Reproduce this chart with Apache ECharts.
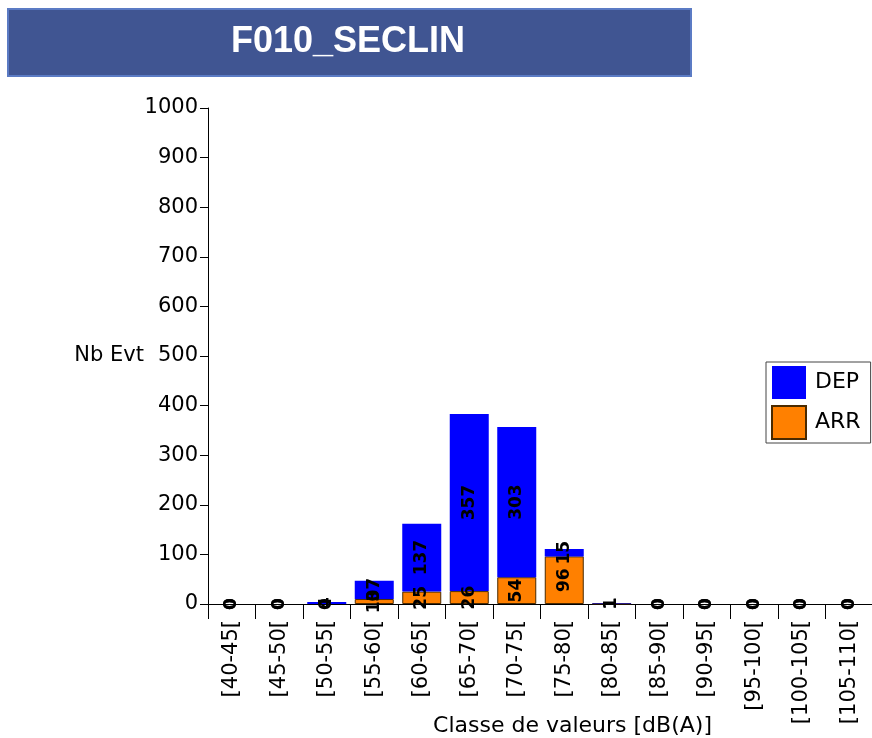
<!DOCTYPE html>
<html>
<head>
<meta charset="utf-8">
<script src="https://cdn.jsdelivr.net/npm/echarts@6/dist/echarts.min.js"></script>
<style>
  html, body { margin: 0; padding: 0; background: #fff; }
  #chart { width: 872px; height: 738px; }
</style>
</head>
<body>
<div id="chart"></div>
<script>
// classes de valeurs
var classes = ['[40-45[', '[45-50[', '[50-55[', '[55-60[', '[60-65[', '[65-70[', '[70-75[',
    '[75-80[', '[80-85[', '[85-90[', '[90-95[', '[95-100[', '[100-105[', '[105-110['];
// nb evenements
var arrValues = [0, 0, 0, 10, 25, 26, 54, 96, 1, 0, 0, 0, 0, 0];
var depValues = [0, 0, 4, 37, 137, 357, 303, 15, 1, 0, 0, 0, 0, 0];
var yTicks = [0, 1000, 100];

var myChart = echarts.init(document.getElementById('chart'));

var labelStyle = {
    show: true,
    position: 'inside',
    rotate: 90,
    color: '#000',
    fontSize: 17,
    fontWeight: 'bold',
    fontFamily: 'DejaVu Sans'
};

// pas de bordure pour les barres vides
function barData(values, border) {
    return values.map(function (v) {
        return { value: v, itemStyle: { borderWidth: v > 0 ? border : 0 } };
    });
}

var option = {
    animation: false,
    textStyle: { fontFamily: 'DejaVu Sans' },
    graphic: [{
        type: 'rect',
        left: 7,
        top: 8,
        shape: { width: 683, height: 67 },
        style: { fill: '#405592', stroke: '#5b7bc4', lineWidth: 2 }
    }, {
        type: 'text',
        x: 348,
        y: 42,
        style: {
            text: 'F010_SECLIN',
            fill: '#fff',
            font: 'bold 36px "Liberation Sans"',
            textAlign: 'center',
            textVerticalAlign: 'middle'
        }
    }],
    legend: {
        data: ['DEP', 'ARR'],
        orient: 'vertical',
        left: 766,
        top: 362,
        borderColor: '#444',
        borderWidth: 1,
        padding: [4, 10, 3, 5],
        itemWidth: 34,
        itemHeight: 33,
        itemGap: 6,
        icon: 'rect',
        textStyle: { fontSize: 22, color: '#000', padding: [0, 0, 0, 4] }
    },
    grid: {
        left: 208,
        right: -1,
        top: 108,
        bottom: 134,
        containLabel: false,
        outerBoundsMode: 'none'
    },
    xAxis: {
        type: 'category',
        data: classes,
        name: 'Classe de valeurs [dB(A)]',
        nameLocation: 'middle',
        nameGap: 111,
        nameMoveOverlap: false,
        nameTextStyle: { fontSize: 22, color: '#000', padding: [0, 0, 0, 64] },
        axisLine: { lineStyle: { color: '#000', width: 1 } },
        axisTick: { show: true, length: 15, lineStyle: { color: '#000' } },
        axisLabel: { rotate: 90, fontSize: 21, color: '#000', margin: 16, interval: 0 }
    },
    yAxis: {
        type: 'value',
        min: yTicks[0],
        max: yTicks[1],
        interval: yTicks[2],
        name: 'Nb Evt',
        nameLocation: 'middle',
        nameRotate: 0,
        nameGap: 64,
        nameMoveOverlap: false,
        nameTextStyle: { fontSize: 21, color: '#000' },
        splitLine: { show: false },
        axisLine: { show: true, lineStyle: { color: '#000', width: 1 } },
        axisTick: { show: true, length: 8, lineStyle: { color: '#000' } },
        axisLabel: {
            fontSize: 21,
            color: '#000',
            margin: 10,
            formatter: function (v) { return String(v); }
        }
    },
    series: [{
        name: 'ARR',
        type: 'bar',
        stack: 'evt',
        barWidth: 39,
        data: barData(arrValues, 1),
        itemStyle: { color: '#ff8000', borderColor: '#4a2a00', borderWidth: 1 },
        label: labelStyle
    }, {
        name: 'DEP',
        type: 'bar',
        stack: 'evt',
        barWidth: 39,
        data: barData(depValues, 0),
        itemStyle: { color: '#0000ff', borderColor: '#0000ff', borderWidth: 0 },
        label: labelStyle
    }]
};

myChart.setOption(option);
</script>
</body>
</html>
